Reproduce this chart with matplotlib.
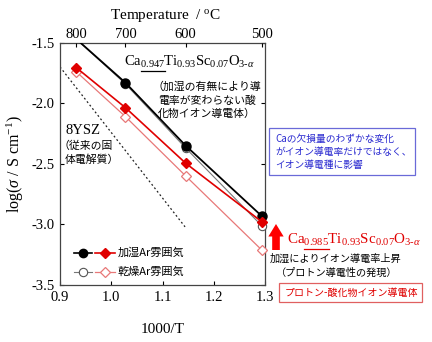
import matplotlib
matplotlib.use("Agg")
import matplotlib.pyplot as plt
from matplotlib.lines import Line2D
from matplotlib.patches import Rectangle

# ---------------- data ----------------
temps_C = [800, 700, 600, 500]
inv_T = [1000.0 / (t + 273.15) for t in temps_C]

ca0947_wet = [-1.47, -1.83, -2.35, -2.93]
ca0947_dry = [-1.47, -1.84, -2.37, -3.01]
ca0985_wet = [-1.706, -2.036, -2.495, -2.977]
ca0985_dry = [-1.74, -2.11, -2.60, -3.21]
ysz_x = [0.9, 1.144]
ysz_y = [-1.70, -3.02]

xticks = [0.9, 1.0, 1.1, 1.2, 1.3]
yticks = [-1.5, -2.0, -2.5, -3.0, -3.5]

# ---------------- style ----------------
plt.rcParams['axes.unicode_minus'] = False
plt.rcParams['mathtext.fontset'] = 'custom'
plt.rcParams['mathtext.rm'] = 'Liberation Serif'
plt.rcParams['mathtext.it'] = 'Liberation Serif:italic'
plt.rcParams['mathtext.bf'] = 'Liberation Serif:bold'
SERIF = 'Liberation Serif'
JP = ['Noto Sans CJK JP', 'DejaVu Sans']
RED = '#e00000'
LRED = '#e87878'
BLUE = '#2a2ad0'

W, H = 432, 342
fig = plt.figure(figsize=(W / 100, H / 100), dpi=100)

def fx(px):
    return px / W

def fy(py):
    return 1 - py / H

ax = fig.add_axes([fx(60), fy(285), fx(265) - fx(60), fy(42.7) - fy(285)])
ax.set_xlim(0.9, 1.3)
ax.set_ylim(-3.5, -1.5)
ax.set_xticks(xticks)
ax.set_xticklabels([f"{v:.1f}" for v in xticks], fontfamily=SERIF, fontsize=10.5)
ax.set_yticks(yticks)
ax.set_yticklabels([f"{v:.1f}" for v in yticks], fontfamily=SERIF, fontsize=10.5)
ax.tick_params(direction='in', length=3, width=0.8, top=False, right=True, pad=4)
for s in ax.spines.values():
    s.set_linewidth(0.9)
    s.set_color('#444444')

ax.set_xlabel('1000/T', fontfamily=SERIF, fontsize=11, labelpad=14)
ax.set_ylabel(r'log($\sigma$ / S cm$^{-1}$)', fontfamily=SERIF, fontsize=11.5, labelpad=4)

# top temperature axis
ax2 = ax.twiny()
ax2.set_xlim(ax.get_xlim())
ax2.set_xticks(inv_T)
ax2.set_xticklabels([str(t) for t in temps_C], fontfamily=SERIF, fontsize=10.5)
ax2.tick_params(direction='in', length=3, width=0.8, pad=1)
for s in ax2.spines.values():
    s.set_visible(False)
fig.text(fx(165), fy(16), r'Temperature  / $^{\rm o}$C', fontfamily=SERIF, fontsize=11,
         ha='center', va='center')

# data lines
l_ysz, = ax.plot(ysz_x, ysz_y, color='#222222', lw=0.9, ls=(0, (1.5, 2.0)))
l_bd, = ax.plot(inv_T, ca0947_dry, color='#777777', lw=0.8, marker='o', ms=6,
                mfc='white', mec='#555555', mew=0.8, zorder=3, markevery=[1, 2, 3])
l_bw, = ax.plot(inv_T, ca0947_wet, color='black', lw=1.3, marker='o', ms=6.5,
                mfc='black', mec='black', zorder=4, markevery=[1, 2, 3])
l_rd, = ax.plot(inv_T, ca0985_dry, color=LRED, lw=0.9, marker='D', ms=5.5,
                mfc='white', mec=LRED, mew=0.9, zorder=3, clip_on=False)
l_rw, = ax.plot(inv_T, ca0985_wet, color=RED, lw=1.2, marker='D', ms=5.5,
                mfc=RED, mec=RED, zorder=4, clip_on=False)
for ln in (l_bd, l_bw):
    ln.set_clip_path(Rectangle((0, 0), 1.05, 1.0, transform=ax.transAxes))

# legend (manual)
def leg_row(py, black_kw, red_kw, label):
    yy = fy(py)
    fig.add_artist(Line2D([fx(74), fx(92)], [yy, yy], transform=fig.transFigure, **black_kw))
    fig.add_artist(Line2D([fx(83)], [yy], transform=fig.transFigure, ls='none',
                          marker='o', **{k: v for k, v in black_kw.items() if k.startswith('m')}))
    fig.add_artist(Line2D([fx(95), fx(115)], [yy, yy], transform=fig.transFigure, **red_kw))
    fig.add_artist(Line2D([fx(105)], [yy], transform=fig.transFigure, ls='none',
                          marker='D', **{k: v for k, v in red_kw.items() if k.startswith('m')}))
    fig.text(fx(118), yy, label, fontfamily=JP, fontsize=8, va='center', ha='left')

leg_row(253, dict(color='black', lw=1.2, ms=6, mfc='black', mec='black'),
        dict(color=RED, lw=1.2, ms=5, mfc=RED, mec=RED), '加湿Ar雰囲気')
leg_row(272, dict(color='#777777', lw=0.8, ms=6, mfc='white', mec='#555555', mew=0.8),
        dict(color=LRED, lw=0.9, ms=5, mfc='white', mec=LRED, mew=0.9), '乾燥Ar雰囲気')

# formulas with underlined Ca deficiency
def formula(px, py, ca, color, size=10.5):
    s = r'Ca$_{%s}$Ti$_{0.93}$Sc$_{0.07}$O$_{3\text{-}\alpha}$' % ca
    t = fig.text(fx(px), fy(py), s, fontfamily=SERIF, fontsize=size, color=color,
                 ha='left', va='center')
    r = fig.canvas.get_renderer()
    a = fig.text(fx(px), fy(py), 'Ca', fontfamily=SERIF, fontsize=size, ha='left', va='center')
    b = fig.text(fx(px), fy(py), r'Ca$_{%s}$' % ca, fontfamily=SERIF, fontsize=size,
                 ha='left', va='center')
    ea = a.get_window_extent(r)
    eb = b.get_window_extent(r)
    a.remove(); b.remove()
    uy = eb.y0 - 1.0
    fig.add_artist(Line2D([(ea.x1 + 0.5) / W, eb.x1 / W], [uy / H, uy / H],
                          transform=fig.transFigure, color=color, lw=0.9))
    return t

formula(124, 62, '0.947', 'black')
formula(287, 240, '0.985', RED, size=10.8)

# note for Ca0.947
fig.text(fx(152), fy(87), '（加湿の有無により導', fontfamily=JP, fontsize=7.8,
         ha='left', va='center')
fig.text(fx(158), fy(100.5), '電率が変わらない酸', fontfamily=JP, fontsize=7.8,
         ha='left', va='center')
fig.text(fx(158), fy(114), '化物イオン導電体）', fontfamily=JP, fontsize=7.8,
         ha='left', va='center')

fig.text(fx(65), fy(131), '8YSZ', fontfamily=SERIF, fontsize=10.5, ha='left', va='center')
fig.text(fx(59), fy(146), '（従来の固', fontfamily=JP, fontsize=7.8, ha='left', va='center')
fig.text(fx(65), fy(160), '体電解質）', fontfamily=JP, fontsize=7.8, ha='left', va='center')

# blue box
fig.add_artist(Rectangle((fx(269), fy(175)), fx(415) - fx(269), fy(128) - fy(175),
                         transform=fig.transFigure, fill=False, ec='#6a6ad8', lw=0.9))
fig.text(fx(275), fy(152), 'Caの欠損量のわずかな変化\nがイオン導電率だけではなく、\nイオン導電種に影響',
         fontfamily=JP, fontsize=7.0, color=BLUE, ha='left', va='center', linespacing=1.35)

# red arrow
ax.annotate('', xy=(276, H - 224), xytext=(276, H - 250), xycoords='figure pixels',
            textcoords='figure pixels',
            arrowprops=dict(arrowstyle='simple,head_length=0.9,head_width=1.1,tail_width=0.55',
                            color='#ff0000', lw=0, shrinkA=0, shrinkB=0),
            annotation_clip=False)

fig.text(fx(270), fy(259), '加湿によりイオン導電率上昇', fontfamily=JP, fontsize=7.3,
         ha='left', va='center')
fig.text(fx(276), fy(273), '（プロトン導電性の発現）', fontfamily=JP, fontsize=7.3,
         ha='left', va='center')

# red box
fig.add_artist(Rectangle((fx(279), fy(302)), fx(422) - fx(279), fy(283) - fy(302),
                         transform=fig.transFigure, fill=False, ec='#e06060', lw=0.9))
fig.text(fx(351), fy(292.5), 'プロトン-酸化物イオン導電体', fontfamily=JP, fontsize=7.2,
         color=RED, ha='center', va='center')

fig.savefig('out.png', dpi=100)
